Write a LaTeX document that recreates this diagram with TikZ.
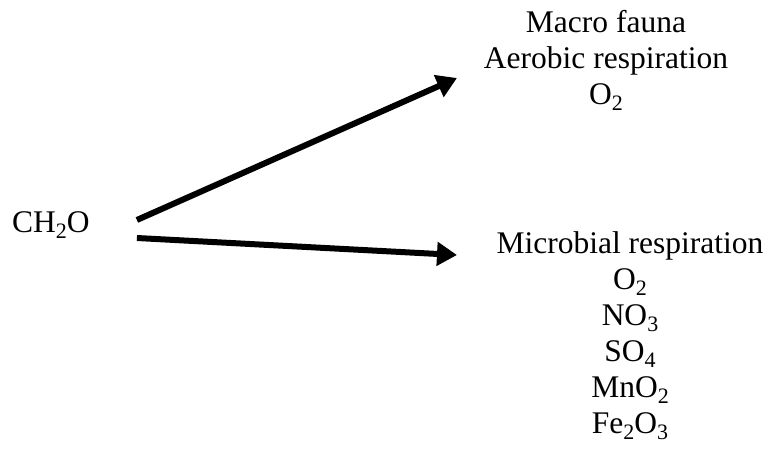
\documentclass[tikz,border=0pt]{standalone}
\usepackage{fontspec}
\setmainfont{Liberation Serif}
\usepackage{tikz}
\usetikzlibrary{arrows.meta,calc,positioning}
\tikzset{
  lbl/.style={inner sep=0pt, anchor=base, align=center,
    font=\fontsize{31.5}{36}\selectfont},
  flow/.style={line width=6pt, -{Triangle[length=20pt,width=23pt]}},
  every picture/.style={line cap=butt, line join=miter}
}
\newcommand{\sbs}[1]{\raisebox{-6pt}{\fontsize{22}{22}\selectfont #1}}

\begin{document}
\begin{tikzpicture}[x=1pt,y=-1pt]
  \useasboundingbox (0,0) rectangle (774,454);

  % source
  \node[lbl,anchor=base west] (ch) at (12,233) {CH\sbs{2}O};

  % aerobic branch (base = last line)
  \node[lbl] (aer) at (606,105) {Macro fauna\\Aerobic respiration\\O\sbs{2}};
  \coordinate (tipA) at (457,78);

  % microbial branch
  \node[lbl] (mic) at (630,433) {Microbial respiration\\O\sbs{2}\\NO\sbs{3}\\SO\sbs{4}\\MnO\sbs{2}\\Fe\sbs{2}O\sbs{3}};
  \coordinate (tipB) at (457,255);

  \draw[flow] ($(ch.base east)+(47,-13)$) -- (tipA);
  \draw[flow] ($(ch.base east)+(47,5)$) -- (tipB);
\end{tikzpicture}
\end{document}
